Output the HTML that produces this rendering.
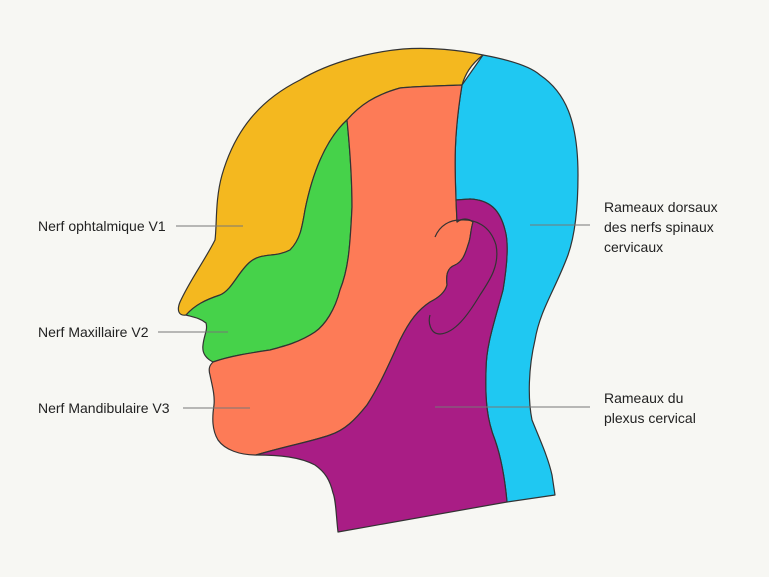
<!DOCTYPE html>
<html><head><meta charset="utf-8"><style>
html,body{margin:0;padding:0;background:#f7f7f3}
svg{display:block}
text{font-family:"Liberation Sans",sans-serif;font-size:14px;fill:#222}
</style></head><body>
<svg width="769" height="577" viewBox="0 0 769 577" xmlns="http://www.w3.org/2000/svg">
<rect width="769" height="577" fill="#f7f7f3"/>
<g stroke="#333" stroke-width="1.2" stroke-linejoin="round">
<path fill="#1fc8f2" d="M483,55 C510,60 530,66 540,75 C565,92 578,120 578,175 C578,210 575,235 568,255 C555,290 540,310 535,340 C528,370 528,400 532,420 C540,440 548,457 552,475 L555,495 L507,502 C505,480 502,460 495,440 C487,420 485,400 486,370 C486,345 495,320 503,290 C508,260 508,240 505,230 C500,210 490,200 470,199 L456,200 C455,170 453,140 462,85 Z"/>
<path fill="#f4b81f" d="M483,55 C470,65 465,75 462,85 C440,86 420,86 400,88 C375,95 360,105 347,120 C325,140 312,175 305,210 C302,228 300,240 290,250 C275,258 262,252 250,262 C238,272 232,290 220,295 C205,300 195,305 186,315 C180,316 176,312 180,302 C190,280 205,260 215,240 C217,225 215,200 222,175 C235,130 260,100 300,80 C330,62 370,52 403,49 C430,47 460,50 483,55 Z"/>
<path fill="#46d24a" d="M347,120 C350,150 352,180 352,207 C350,250 348,270 340,290 C335,310 325,325 315,332 C300,342 285,346 270,350 C250,353 230,356 213,362 C205,358 202,352 203,345 C204,335 208,330 206,323 C200,318 193,317 186,315 C195,305 205,300 220,295 C232,290 238,272 250,262 C262,252 275,258 290,250 C300,240 302,228 305,210 C312,175 325,140 347,120 Z"/>
<path fill="#fd7b57" d="M347,120 C360,105 375,95 400,88 C420,86 440,86 462,85 C453,140 455,170 456,200 L457,222 C462,218 468,218 473,222 C470,232 471,238 468,245 C465,255 462,262 455,265 C447,268 446,275 447,285 C445,293 438,298 430,302 C418,310 410,320 400,340 C390,362 380,385 367,405 C355,420 345,430 330,435 C310,442 290,445 256,455 C240,455 225,450 218,440 C212,430 212,418 214,405 C215,395 212,385 210,375 C208,368 210,365 213,362 C230,356 250,353 270,350 C285,346 300,342 315,332 C325,325 335,310 340,290 C348,270 350,250 352,207 C352,180 350,150 347,120 Z"/>
<path fill="#a91d85" d="M456,200 L470,199 C490,200 500,210 505,230 C508,240 508,260 503,290 C495,320 486,345 486,370 C485,400 487,420 495,440 C502,460 505,480 507,502 L338,532 C336,515 336,500 333,493 C330,480 325,472 315,465 C300,457 280,455 256,455 C290,445 310,442 330,435 C345,430 355,420 367,405 C380,385 390,362 400,340 C410,320 418,310 430,302 C438,298 445,293 447,285 C446,275 447,268 455,265 C462,262 465,255 468,245 C471,238 470,232 473,222 C468,218 462,218 457,222 Z"/>
</g>
<g fill="none" stroke="#333" stroke-width="1.2">
<path d="M435,237 C440,225 450,220 460,220 C475,219 490,225 496,245 C500,265 490,280 480,295 C468,315 455,333 440,334 C430,334 428,322 430,315"/>
</g>
<g fill="none" stroke="#777" stroke-width="0.9">
<line x1="176" y1="226" x2="243" y2="226"/>
<line x1="158" y1="332" x2="228" y2="332"/>
<line x1="183" y1="408" x2="250" y2="408"/>
<line x1="530" y1="225" x2="590" y2="225"/>
<line x1="435" y1="407" x2="590" y2="407"/>
</g>
<text x="38" y="231">Nerf ophtalmique V1</text>
<text x="38" y="337">Nerf Maxillaire V2</text>
<text x="38" y="413">Nerf Mandibulaire V3</text>
<text x="604" y="212">Rameaux dorsaux</text>
<text x="604" y="232">des nerfs spinaux</text>
<text x="604" y="252">cervicaux</text>
<text x="604" y="403">Rameaux du</text>
<text x="604" y="423">plexus cervical</text>
</svg>
</body></html>
